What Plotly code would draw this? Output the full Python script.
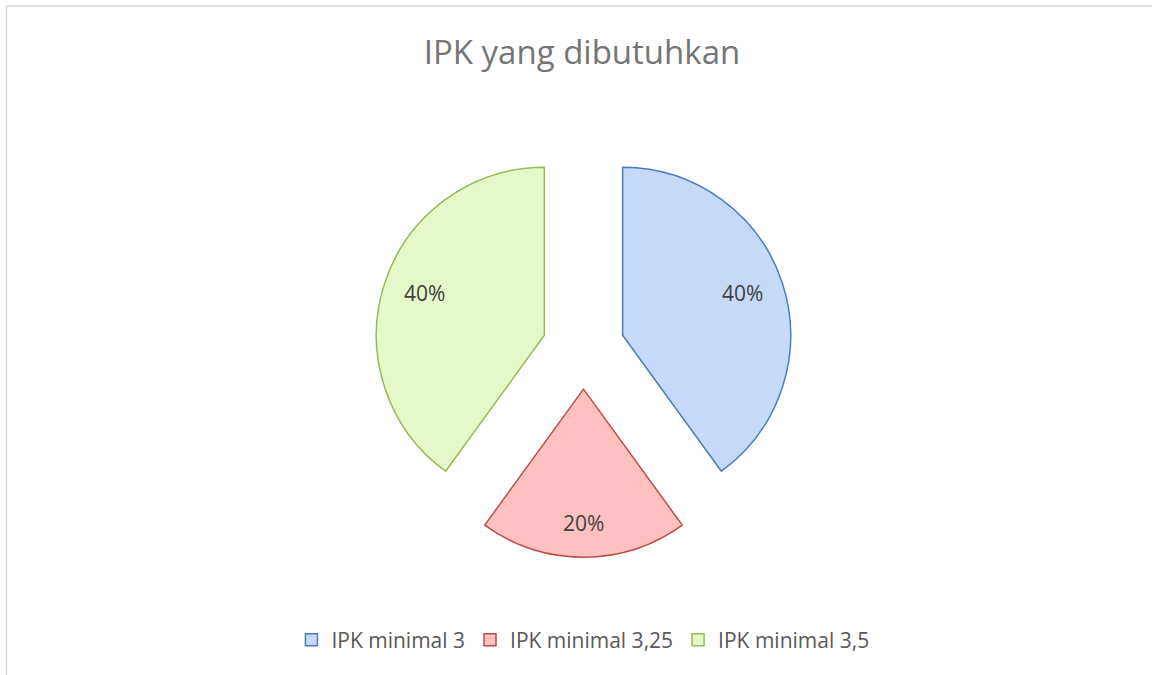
import math
import plotly.graph_objects as go

categories = ["IPK minimal 3", "IPK minimal 3,25", "IPK minimal 3,5"]
values = [40, 20, 40]
fill_colors = ["#c6d9f9", "#ffc0c0", "#e5f9c8"]
line_colors = ["#4a7ebb", "#be4b48", "#98b954"]

W, H = 1152, 675
FONT = "Open Sans, Lato, sans-serif"
cx, cy = 583.5, 348      # pie centre, px
pull = 0.245
r = 168                  # pie radius, px
half = r * (1 + pull)

fig = go.Figure(go.Pie(
    labels=categories,
    values=values,
    sort=False,
    direction="clockwise",
    rotation=0,
    pull=[pull] * len(values),
    marker=dict(colors=fill_colors, line=dict(color=line_colors, width=1.5)),
    textinfo="none",
    hoverinfo="label+percent",
    domain=dict(x=[(cx - half) / W, (cx + half) / W],
                y=[1 - (cy + half) / H, 1 - (cy - half) / H]),
))

# percentage labels placed "inside end" of each slice, computed from the values
total = sum(values)
label_size = 21
hw, hh, gap = 21, 12, 18
annotations = []
start = 0.0
for v in values:
    frac = v / total
    theta = (start + frac / 2) * 2 * math.pi
    ux, uy = math.sin(theta), -math.cos(theta)
    ax_, ay_ = cx + pull * r * ux, cy + pull * r * uy
    sx = 1 if ux > 1e-9 else (-1 if ux < -1e-9 else 1)
    sy = 1 if uy > 1e-9 else (-1 if uy < -1e-9 else 1)
    c = (hw * sx, hh * sy)
    uc = ux * c[0] + uy * c[1]
    R = r - gap
    t = -uc + math.sqrt(uc * uc - (c[0] ** 2 + c[1] ** 2) + R * R)
    px, py = ax_ + t * ux, ay_ + t * uy - 3
    annotations.append(dict(
        text=f"{round(frac * 100)}%", x=px / W, y=1 - py / H, xref="paper", yref="paper",
        xanchor="center", yanchor="middle", showarrow=False,
        font=dict(family=FONT, size=label_size, color="#404040")))
    start += frac

fig.update_layout(
    width=W, height=H,
    margin=dict(l=0, r=0, t=0, b=0),
    paper_bgcolor="white",
    plot_bgcolor="white",
    title=dict(text="IPK yang dibutuhkan", x=582 / W, xanchor="center",
               y=1 - 52 / H, yanchor="middle",
               font=dict(family=FONT, size=33, color="#757575")),
    legend=dict(orientation="h", x=0.506, xanchor="center", y=1 - 640 / H, yanchor="middle",
                font=dict(family=FONT, size=21, color="#595959"),
                traceorder="normal"),
    annotations=annotations,
    shapes=[
        dict(type="line", xref="paper", yref="paper", x0=6 / W, x1=1, y0=1 - 6 / H, y1=1 - 6 / H,
             line=dict(color="#d9d9d9", width=1.5)),
        dict(type="line", xref="paper", yref="paper", x0=6.5 / W, x1=6.5 / W, y0=0, y1=1 - 6 / H,
             line=dict(color="#d9d9d9", width=1.5)),
    ],
)

fig.write_html("out.html", config={"displayModeBar": False},
               post_script="document.body.style.margin='0';document.body.style.overflow='hidden';")
